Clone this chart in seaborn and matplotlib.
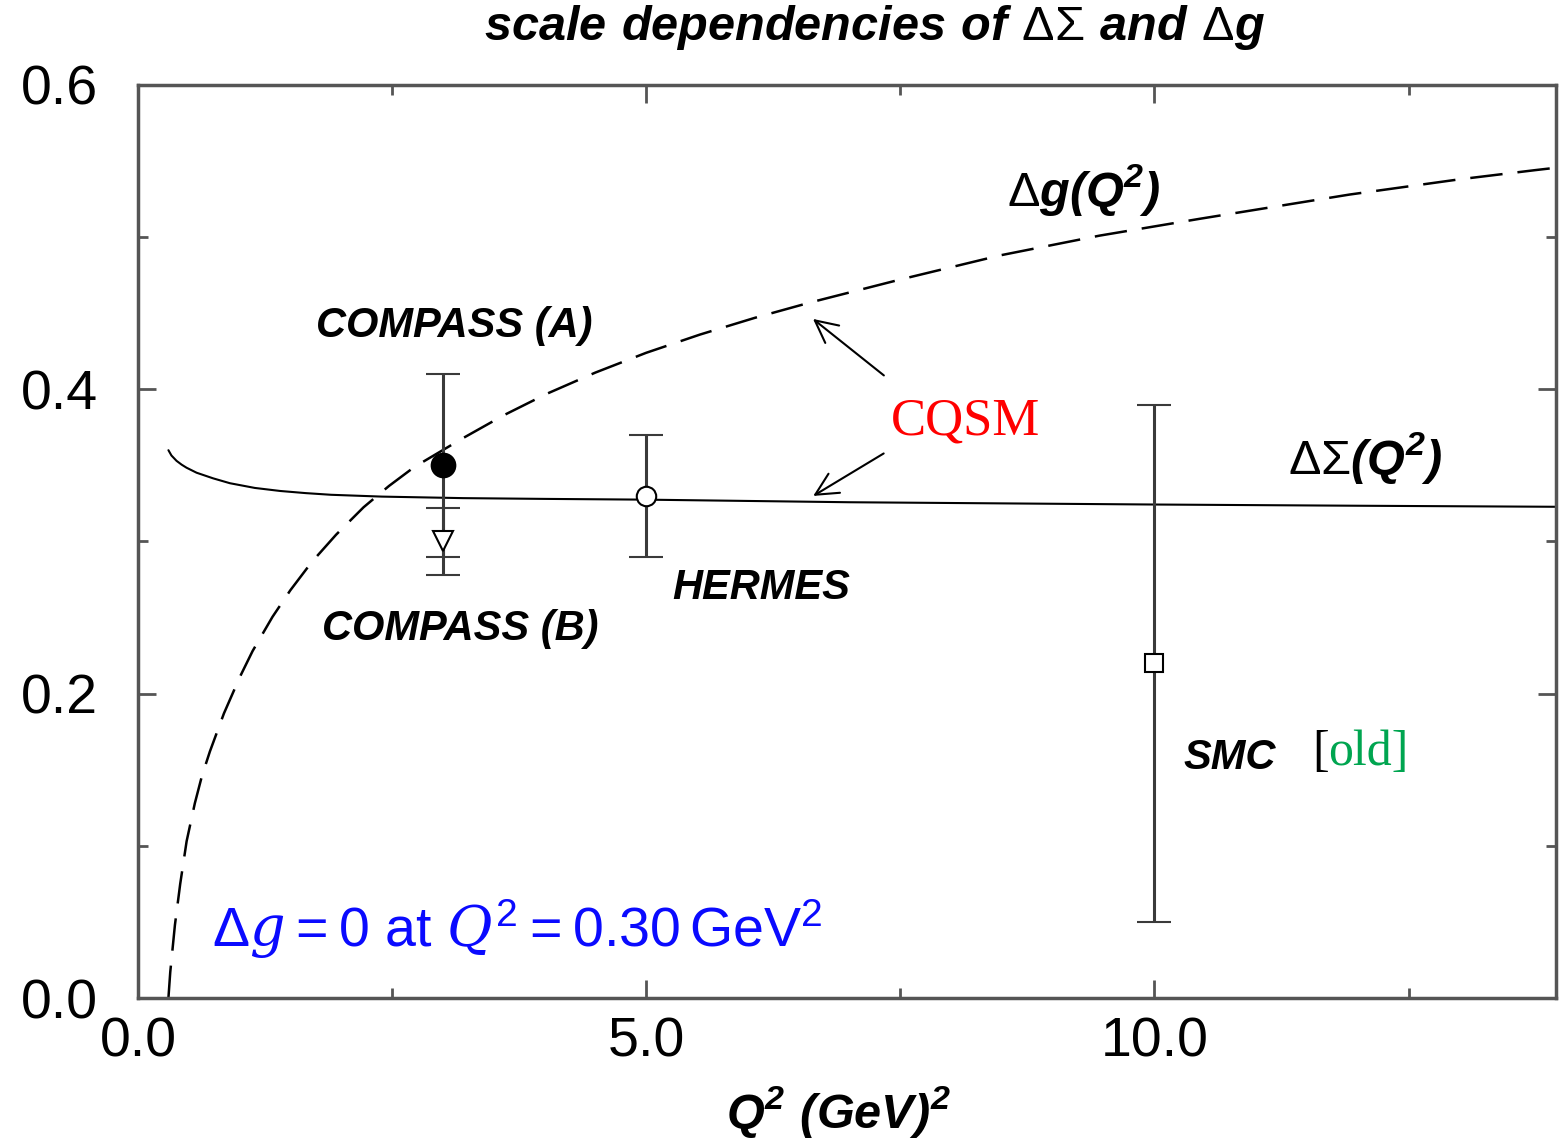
import matplotlib
matplotlib.use("Agg")
import matplotlib.pyplot as plt
from matplotlib.ticker import MultipleLocator, FormatStrFormatter
import seaborn as sns
import pandas as pd

# CQSM model curves (Q^2 in GeV^2)
sigma_q2 = [0.30, 0.33, 0.38, 0.43, 0.478, 0.577, 0.74, 0.905, 1.15, 1.40, 1.65, 1.90,
            2.40, 3.20, 4.00, 5.00, 7.00, 10.00, 12.00, 14.00]
sigma_val = [0.3600, 0.3565, 0.3530, 0.3505, 0.3485, 0.3452, 0.3415, 0.3383, 0.3352,
             0.3332, 0.3318, 0.3307, 0.3295, 0.3285, 0.3280, 0.3275, 0.3258, 0.3243,
             0.3235, 0.3228]

dg_q2 = [0.30, 0.318, 0.364, 0.416, 0.479, 0.56, 0.63, 0.708, 0.846, 1.003, 1.128,
         1.324, 1.50, 1.71, 1.95, 2.22, 2.47, 2.72, 3.20, 3.60, 4.02, 4.50, 5.00, 5.53,
         6.07, 6.61, 7.49, 8.48, 9.46, 10.44, 11.92, 13.00, 13.74, 14.00]
dg_val = [0.000, 0.017, 0.048, 0.075, 0.103, 0.128, 0.146, 0.162, 0.187, 0.211, 0.228,
          0.2505, 0.268, 0.2865, 0.3045, 0.3225, 0.3365, 0.349, 0.368, 0.383, 0.397,
          0.411, 0.424, 0.436, 0.447, 0.457, 0.472, 0.488, 0.501, 0.512, 0.528, 0.538,
          0.544, 0.546]

# Experimental extractions of Delta Sigma
exp_names = ["COMPASS (A)", "COMPASS (B)", "HERMES", "SMC"]
exp_q2 = [3.0, 3.0, 5.0, 10.0]
exp_val = [0.35, 0.30, 0.33, 0.22]
exp_err = [0.06, 0.022, 0.04, 0.17]
exp_marker = ["o", "v", "o", "s"]
exp_face = ["black", "white", "white", "white"]
exp_size = [17, 15, 14, 13]

x_ticks = [0.0, 5.0, 10.0]
y_ticks = [0.0, 0.2, 0.4, 0.6]

sns.set_theme(style="ticks")
plt.rcParams["font.family"] = ["Liberation Sans", "DejaVu Sans"]
plt.rcParams["text.color"] = "black"
plt.rcParams["mathtext.fontset"] = "custom"
plt.rcParams["mathtext.rm"] = "Liberation Sans"
plt.rcParams["mathtext.it"] = "DejaVu Serif:italic"
plt.rcParams["mathtext.bf"] = "Liberation Sans:bold"
plt.rcParams["mathtext.bfit"] = "Liberation Sans:italic:bold"

fig = plt.figure(figsize=(15.62, 11.47), dpi=100)
ax = fig.add_axes([0.0883, 0.1299, 0.9078, 0.7960])

sigma_df = pd.DataFrame({"Q2": sigma_q2, "val": sigma_val})
dg_df = pd.DataFrame({"Q2": dg_q2, "val": dg_val})

sns.lineplot(data=sigma_df, x="Q2", y="val", ax=ax, color="black", lw=1.5,
             sort=False, estimator=None, zorder=2)
sns.lineplot(data=dg_df, x="Q2", y="val", ax=ax, color="black", lw=1.8,
             linestyle=(0, (13, 6)), sort=False, estimator=None, zorder=2)

for q, v, e, m, fc, ms in zip(exp_q2, exp_val, exp_err, exp_marker, exp_face, exp_size):
    ax.errorbar(q, v, yerr=e, fmt=m, ms=ms, mfc=fc, mec="black", mew=1.5,
                ecolor="#3a3a3a", elinewidth=2.2, capsize=12, capthick=2.2, zorder=4)

ax.set_xlim(0, 13.95)
ax.set_ylim(0, 0.6)
ax.xaxis.set_major_locator(MultipleLocator(5))
ax.xaxis.set_minor_locator(MultipleLocator(2.5))
ax.yaxis.set_major_locator(MultipleLocator(0.2))
ax.yaxis.set_minor_locator(MultipleLocator(0.1))
ax.set_xticks(x_ticks)
ax.set_yticks(y_ticks)
ax.xaxis.set_major_formatter(FormatStrFormatter("%.1f"))
ax.yaxis.set_major_formatter(FormatStrFormatter("%.1f"))
ax.tick_params(which="both", direction="in", top=True, right=True,
               color="#555555", width=2)
ax.tick_params(which="major", length=13)
ax.tick_params(which="minor", length=7)
ax.tick_params(axis="y", which="major", labelsize=40, pad=29, labelcolor="black")
ax.tick_params(axis="x", which="major", labelsize=40, pad=13, labelcolor="black")
for sp in ax.spines.values():
    sp.set_color("#555555")
    sp.set_linewidth(2.5)
ax.set_xlabel("")
ax.set_ylabel("")

bold_it = dict(fontsize=30, fontweight="bold", fontstyle="italic", color="black",
               ha="center", va="center")
label_pos = {"COMPASS (A)": (3.11, 0.4416), "COMPASS (B)": (3.17, 0.2425),
             "HERMES": (6.13, 0.2694), "SMC": (10.74, 0.1577)}
for name in exp_names:
    ax.text(*label_pos[name], name, **bold_it)

ax.text(9.31, 0.531, r"$\Delta\mathbfit{g(Q^2)}$", fontsize=35, color="black",
        ha="center", va="center")
ax.text(12.07, 0.355, r"$\Delta\Sigma\mathbfit{(Q^2)}$", fontsize=35, color="black",
        ha="center", va="center")

ax.text(8.14, 0.379, "CQSM", fontsize=38, color="#ff0000", family="Liberation Serif",
        ha="center", va="center")
ax.annotate("", xy=(6.62, 0.4474), xytext=(7.36, 0.408),
            arrowprops=dict(arrowstyle="->", lw=1.5, color="black", mutation_scale=40))
ax.annotate("", xy=(6.62, 0.329), xytext=(7.36, 0.3588),
            arrowprops=dict(arrowstyle="->", lw=1.5, color="black", mutation_scale=40))

old = ax.text(11.55, 0.161, "[", fontsize=36, color="black", family="Liberation Serif",
              ha="left", va="center")
ax.annotate("old]", xycoords=old, xy=(1, 0.5), va="center", ha="left",
            fontsize=36, color="#00a550", family="Liberation Serif")

ax.text(0.73, 0.045, r"$\Delta g = 0$ at $Q^2 = 0.30\,\mathrm{GeV}^2$", fontsize=40,
        color="#0a0aff", ha="left", va="center")

fig.text(0.5596, 0.9756,
         r"$\mathbfit{scale\ dependencies\ of\ }\Delta\Sigma\mathbfit{\ and\ }\Delta\mathbfit{g}$",
         fontsize=35, color="black", ha="center", va="center")
fig.text(0.5365, 0.0305, r"$\mathbfit{Q^2\ (GeV)^2}$", fontsize=35, color="black",
         ha="center", va="center")

fig.savefig("out.png", dpi=100)
